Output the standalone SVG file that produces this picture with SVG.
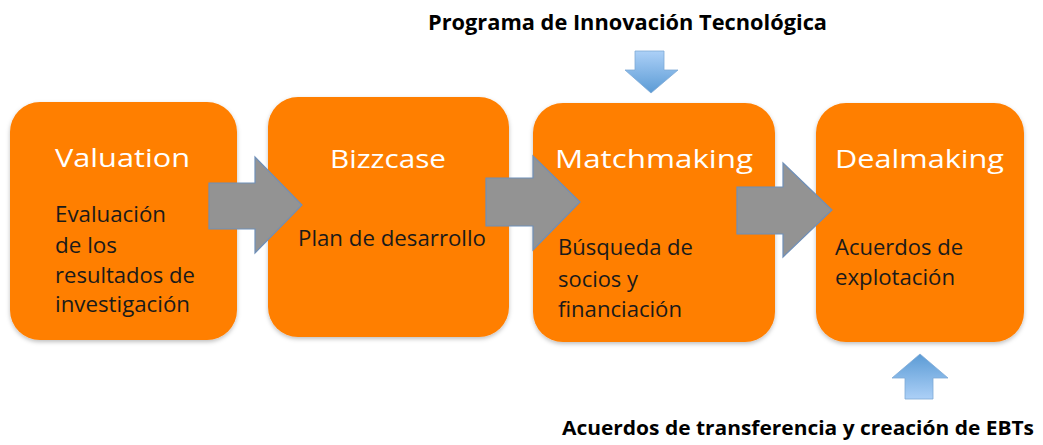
<svg xmlns="http://www.w3.org/2000/svg" width="1043" height="445" viewBox="0 0 1043 445">
<defs>
<style>
.box{fill:#ff7f00;}
.title{font-family:"Open Sans","Noto Sans",sans-serif;font-size:25px;fill:#ffffff;}
.body{font-family:"Open Sans","Noto Sans",sans-serif;font-size:21px;fill:#1a1a1a;}
.lbl{font-family:"Open Sans","Noto Sans",sans-serif;font-size:22px;font-weight:bold;fill:#000000;}
.lbl2{font-family:"Open Sans","Noto Sans",sans-serif;font-size:20px;font-weight:bold;fill:#000000;}
.garrow{fill:#939393;stroke:#6f8fb8;stroke-width:1.2;}
</style>
<linearGradient id="gDown" x1="0" y1="0" x2="0" y2="1">
<stop offset="0" stop-color="#acd0f7"/>
<stop offset="1" stop-color="#5b9bd5"/>
</linearGradient>
<linearGradient id="gUp" x1="0" y1="0" x2="0" y2="1">
<stop offset="0" stop-color="#5b9bd5"/>
<stop offset="1" stop-color="#acd0f7"/>
</linearGradient>
<filter id="sh" x="-10%" y="-10%" width="120%" height="120%">
<feDropShadow dx="0" dy="2" stdDeviation="2" flood-color="#000" flood-opacity="0.25"/>
</filter>
</defs>
<rect width="1043" height="445" fill="#ffffff"/>

<g id="node-valuation">
<rect class="box" x="10" y="102" width="227" height="238" rx="30" filter="url(#sh)"/>
<text class="title" x="55" y="167" textLength="135" lengthAdjust="spacingAndGlyphs">Valuation</text>
<text class="body" x="55" y="222" textLength="111" lengthAdjust="spacingAndGlyphs">Evaluación</text>
<text class="body" x="55" y="253" textLength="62" lengthAdjust="spacingAndGlyphs">de los</text>
<text class="body" x="55" y="283" textLength="140" lengthAdjust="spacingAndGlyphs">resultados de</text>
<text class="body" x="55" y="312" textLength="135" lengthAdjust="spacingAndGlyphs">investigación</text>
</g>

<g id="node-bizzcase">
<rect class="box" x="268" y="97" width="241" height="240" rx="30" filter="url(#sh)"/>
<text class="title" x="330" y="168" textLength="116" lengthAdjust="spacingAndGlyphs">Bizzcase</text>
<text class="body" x="298" y="246" textLength="188" lengthAdjust="spacingAndGlyphs">Plan de desarrollo</text>
</g>

<g id="node-matchmaking">
<rect class="box" x="533" y="103" width="242" height="239" rx="30" filter="url(#sh)"/>
<text class="title" x="555" y="168" textLength="198" lengthAdjust="spacingAndGlyphs">Matchmaking</text>
<text class="body" x="558" y="255" textLength="135" lengthAdjust="spacingAndGlyphs">Búsqueda de</text>
<text class="body" x="558" y="287" textLength="80" lengthAdjust="spacingAndGlyphs">socios y</text>
<text class="body" x="558" y="317" textLength="124" lengthAdjust="spacingAndGlyphs">financiación</text>
</g>

<g id="node-dealmaking">
<rect class="box" x="816" y="103" width="208" height="239" rx="30" filter="url(#sh)"/>
<text class="title" x="835" y="168" textLength="169" lengthAdjust="spacingAndGlyphs">Dealmaking</text>
<text class="body" x="835" y="255" textLength="128" lengthAdjust="spacingAndGlyphs">Acuerdos de</text>
<text class="body" x="835" y="285" textLength="120" lengthAdjust="spacingAndGlyphs">explotación</text>
</g>

<g id="label-top">
<text class="lbl" x="428" y="30" textLength="399" lengthAdjust="spacingAndGlyphs">Programa de Innovación Tecnológica</text>
</g>
<g id="label-bottom">
<text class="lbl2" x="562" y="435" textLength="472" lengthAdjust="spacingAndGlyphs">Acuerdos de transferencia y creación de EBTs</text>
</g>

<g id="connectors">
<polygon class="garrow" points="209,183 255,183 255,157 302,205 255,253 255,229 209,229"/>
<polygon class="garrow" points="486,178 533,178 533,156 580,202 533,250 533,226 486,226"/>
<polygon class="garrow" points="737,187 783,187 783,163 832,210 783,257 783,234 737,234"/>
<polygon points="635,51 664,51 664,70 678,70 651,93 625,70 635,70" fill="url(#gDown)" stroke="#7fa9d6" stroke-width="0.8"/>
<polygon points="920,354 948,378 933,378 933,399 905,399 905,378 892,378" fill="url(#gUp)" stroke="#7fa9d6" stroke-width="0.8"/>
</g>
</svg>
